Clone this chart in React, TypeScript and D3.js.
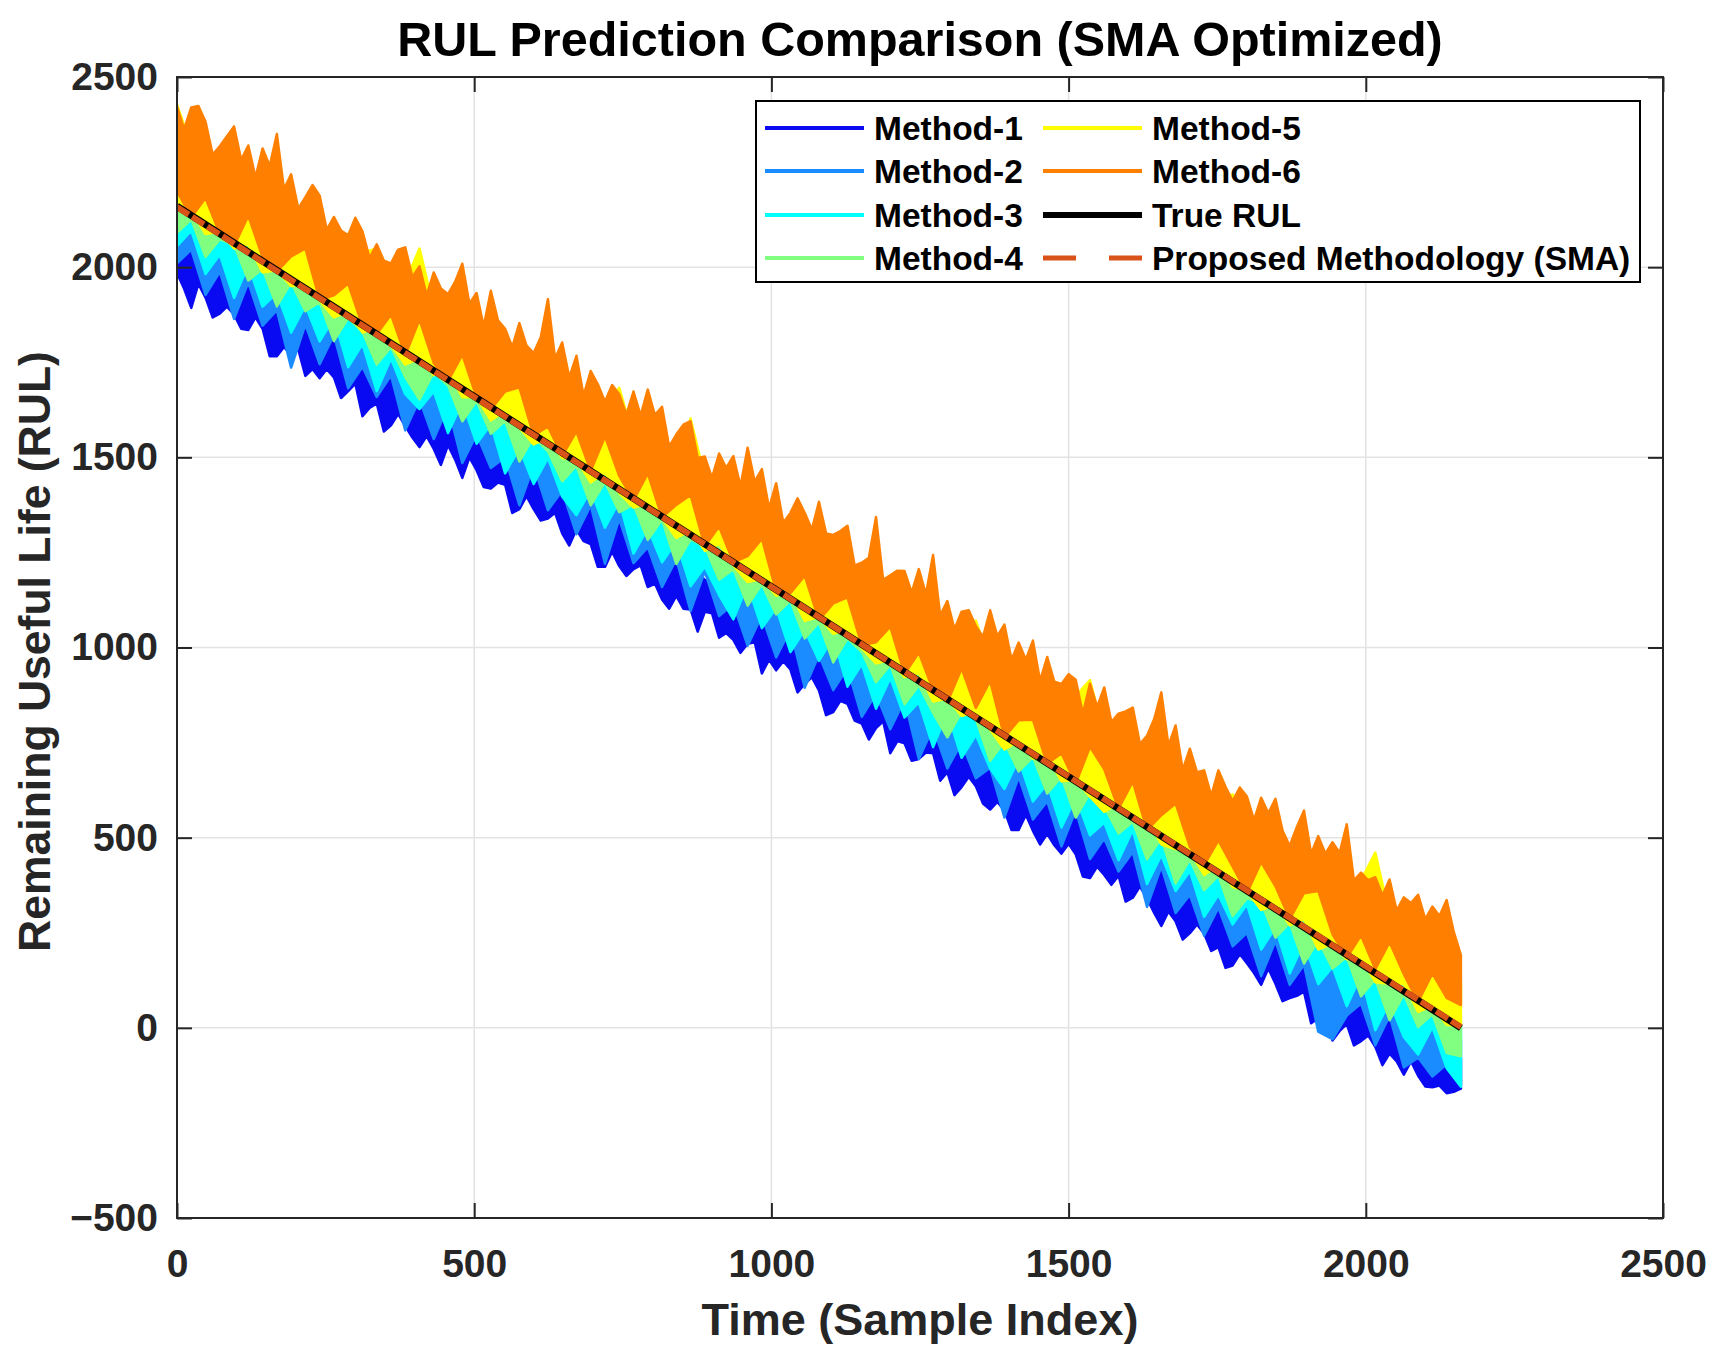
import { useEffect, useRef } from "react";
import * as d3 from "d3";

// Each method is drawn as the min/max envelope of its noisy trace, read off the
// figure per bin. Coarse envelopes use 24-sample bins, the outer silhouettes
// (top of Method-6, bottom of Method-1) use 12-sample bins.
const sampleIdx = d3.range(0, 2161, 24);
const sampleIdxFine = d3.range(0, 2161, 12);

const m1Hi = [
    2100, 2051, 2062, 2016, 1969, 1982, 1936, 1948, 1880, 1878,
    1868, 1798, 1802, 1802, 1742, 1738, 1686, 1698, 1652, 1662,
    1594, 1588, 1576, 1514, 1510, 1512, 1452, 1448, 1388, 1406,
    1362, 1366, 1300, 1298, 1300, 1240, 1234, 1176, 1194, 1150,
    1112, 1130, 1086, 1044, 1048, 982, 984, 982, 926, 920,
    868, 878, 836, 844, 778, 772, 762, 698, 698, 696,
    640, 634, 572, 592, 550, 510, 530, 486, 444, 452,
    402, 360, 372, 336, 340, 272, 272, 258, 206, 194,
    148, 158, 116, 120, 58, 54, -2, 16, -26, -38, -80,
];
const m1Lo = [
    1985, 1943, 1893, 1956, 1920, 1868, 1878, 1896, 1876, 1838,
    1835, 1868, 1838, 1766, 1766, 1790, 1768, 1784, 1714, 1732,
    1708, 1732, 1710, 1656, 1674, 1694, 1608, 1630, 1642, 1568,
    1584, 1614, 1582, 1552, 1527, 1556, 1522, 1480, 1532, 1494,
    1446, 1500, 1466, 1422, 1418, 1434, 1428, 1354, 1364, 1398,
    1364, 1334, 1339, 1354, 1300, 1268, 1310, 1280, 1272, 1212,
    1212, 1252, 1214, 1188, 1206, 1216, 1159, 1168, 1126, 1102,
    1136, 1102, 1100, 1042, 1094, 1090, 1026, 1038, 1020, 986,
    1010, 1014, 932, 968, 940, 964, 942, 882, 904, 922,
    887, 822, 830, 860, 852, 808, 800, 758, 788, 806,
    722, 754, 748, 702, 707, 724, 722, 650, 672, 612,
    633, 660, 635, 590, 574, 594, 572, 520, 520, 560,
    518, 482, 510, 480, 458, 484, 456, 398, 394, 424,
    402, 376, 400, 332, 342, 372, 340, 302, 268, 306,
    280, 232, 249, 272, 248, 202, 212, 158, 164, 194,
    170, 144, 113, 156, 116, 70, 78, 84, 95, 12,
    25, 48, -33, -8, 10, -46, -35, -20, -50, -98,
    -68, -88, -123, -88, -126, -154, -156, -152, -172, -168,
    -160,
];
const m2Hi = [
    2150, 2111, 2104, 2068, 2036, 2028, 1992, 1986, 1950, 1929,
    1891, 1885, 1855, 1822, 1815, 1779, 1762, 1722, 1712, 1697,
    1657, 1643, 1605, 1598, 1565, 1532, 1528, 1490, 1473, 1452,
    1415, 1398, 1386, 1347, 1315, 1307, 1279, 1248, 1239, 1204,
    1186, 1149, 1141, 1110, 1081, 1073, 1030, 1017, 996, 962,
    941, 928, 884, 872, 854, 816, 802, 772, 762, 717,
    703, 684, 649, 639, 605, 571, 563, 531, 513, 497,
    455, 438, 421, 386, 356, 350, 320, 288, 280, 244,
    226, 190, 180, 150, 121, 111, 69, 57, 27, 11, -30,
];
const m2Lo = [
    2010, 2046, 1927, 1988, 1864, 1960, 1846, 1887, 1736, 1849,
    1745, 1821, 1682, 1738, 1659, 1715, 1571, 1652, 1548, 1634,
    1485, 1561, 1472, 1500, 1374, 1478, 1361, 1412, 1298, 1374,
    1220, 1338, 1222, 1264, 1159, 1232, 1096, 1200, 1083, 1114,
    1005, 1084, 974, 1048, 894, 980, 888, 946, 818, 878,
    785, 862, 707, 790, 682, 750, 656, 684, 553, 660,
    548, 596, 477, 572, 444, 498, 411, 462, 318, 424,
    302, 350, 242, 316, 214, 250, 136, 228, 113, 166,
    -10, -30, 32, 64, -46, 32, -104, -78, -128, -96, -150,
];
const m3Hi = [
    2198, 2146, 2137, 2083, 2082, 2072, 2018, 2014, 1980, 1979,
    1918, 1916, 1880, 1876, 1838, 1796, 1806, 1758, 1752, 1720,
    1680, 1690, 1642, 1634, 1578, 1580, 1548, 1548, 1492, 1482,
    1468, 1414, 1414, 1382, 1376, 1326, 1312, 1298, 1244, 1244,
    1210, 1206, 1154, 1152, 1118, 1116, 1050, 1050, 1036, 992,
    982, 936, 944, 900, 890, 844, 834, 826, 766, 764,
    730, 724, 678, 672, 640, 596, 606, 564, 550, 506,
    514, 470, 458, 402, 402, 368, 366, 332, 288, 288,
    252, 248, 196, 190, 160, 148, 94, 92, 58, 50, 6,
];
const m3Lo = [
    2055, 2096, 1982, 2033, 1919, 2005, 1896, 1932, 1828, 1899,
    1805, 1866, 1737, 1798, 1674, 1760, 1666, 1627, 1673, 1564,
    1645, 1536, 1587, 1458, 1524, 1430, 1498, 1397, 1348, 1414,
    1315, 1384, 1247, 1313, 1224, 1278, 1161, 1212, 1138, 1074,
    1164, 1051, 1104, 988, 1046, 965, 1026, 897, 956, 839,
    920, 816, 856, 738, 830, 710, 770, 682, 628, 706,
    595, 642, 527, 606, 506, 540, 441, 520, 378, 454,
    360, 412, 292, 350, 272, 324, 206, 264, 143, 224,
    115, 160, 57, 138, -6, 68, -24, -70, 2, -106, -155,
];
const m4Hi = [
    2200, 2191, 2137, 2150, 2099, 2088, 2036, 2058, 1998, 1996,
    1958, 1918, 1930, 1892, 1852, 1864, 1812, 1802, 1752, 1764,
    1722, 1686, 1688, 1634, 1652, 1594, 1582, 1532, 1542, 1504,
    1468, 1478, 1430, 1392, 1394, 1364, 1326, 1338, 1270, 1280,
    1236, 1224, 1178, 1188, 1144, 1112, 1110, 1052, 1072, 1026,
    988, 994, 946, 934, 888, 902, 854, 844, 798, 788,
    786, 722, 722, 684, 646, 658, 618, 582, 582, 528,
    526, 520, 464, 448, 404, 416, 374, 340, 348, 308,
    274, 268, 218, 216, 206, 150, 136, 94, 104, 60, 20,
];
const m4Lo = [
    2090, 2126, 2027, 2073, 2059, 1965, 1996, 1897, 1960, 1884,
    1908, 1806, 1866, 1830, 1744, 1790, 1711, 1652, 1723, 1689,
    1595, 1648, 1562, 1596, 1489, 1554, 1516, 1437, 1478, 1374,
    1435, 1356, 1376, 1283, 1336, 1220, 1284, 1266, 1178, 1206,
    1110, 1166, 1087, 1123, 1024, 1066, 961, 1024, 988, 909,
    954, 851, 900, 828, 764, 830, 811, 702, 752, 674,
    712, 616, 660, 553, 618, 582, 511, 542, 443, 499,
    380, 442, 362, 400, 294, 340, 330, 237, 276, 169,
    230, 156, 187, 83, 128, 20, 88, 2, 36, -66, -75,
];
const m5Hi = [
    2428, 2316, 2262, 2293, 2234, 2180, 2236, 2152, 2163, 2079,
    2130, 2071, 2022, 2038, 2049, 1945, 1961, 2049, 1893, 1844,
    1880, 1886, 1787, 1788, 1794, 1710, 1731, 1682, 1628, 1669,
    1625, 1683, 1552, 1583, 1524, 1465, 1602, 1447, 1398, 1424,
    1365, 1396, 1337, 1268, 1299, 1250, 1286, 1187, 1188, 1189,
    1110, 1176, 1087, 1078, 1009, 1050, 1071, 957, 953, 884,
    920, 876, 822, 873, 914, 770, 771, 697, 743, 684,
    640, 661, 572, 598, 614, 525, 486, 522, 463, 409,
    440, 401, 352, 388, 461, 295, 246, 277, 228, 184, 120,
];
const m5Lo = [
    2150, 2148, 2087, 2093, 2049, 2060, 1986, 1992, 1950, 1959,
    1912, 1868, 1882, 1828, 1842, 1795, 1744, 1760, 1716, 1726,
    1658, 1658, 1597, 1622, 1578, 1534, 1552, 1498, 1494, 1434,
    1460, 1406, 1368, 1378, 1340, 1288, 1308, 1254, 1272, 1216,
    1172, 1180, 1136, 1146, 1070, 1080, 1036, 1046, 998, 958,
    968, 922, 934, 858, 866, 820, 832, 784, 732, 754,
    708, 716, 648, 652, 608, 568, 590, 546, 552, 482,
    470, 464, 402, 426, 370, 360, 310, 324, 270, 286,
    206, 222, 180, 184, 120, 116, 116, 42, 58, 8, 4,
];
const m6Hi = [
    2422, 2363, 2420, 2424, 2382, 2296, 2318, 2344, 2370, 2282,
    2320, 2236, 2312, 2266, 2350, 2205, 2244, 2154, 2184, 2216,
    2188, 2098, 2132, 2096, 2084, 2130, 2094, 2024, 2060, 2017,
    2010, 2046, 2052, 1974, 2002, 1926, 1986, 1944, 1929, 1962,
    2009, 1904, 1932, 1844, 1938, 1860, 1838, 1790, 1853, 1794,
    1774, 1816, 1916, 1760, 1802, 1710, 1767, 1662, 1727, 1692,
    1646, 1690, 1666, 1612, 1673, 1610, 1678, 1611, 1633, 1528,
    1560, 1586, 1595, 1498, 1502, 1446, 1510, 1472, 1503, 1424,
    1525, 1436, 1469, 1366, 1432, 1328, 1354, 1392, 1354, 1310,
    1383, 1300, 1296, 1306, 1320, 1216, 1223, 1236, 1343, 1178,
    1190, 1202, 1201, 1144, 1206, 1140, 1243, 1084, 1122, 1048,
    1094, 1098, 1056, 1028, 1098, 1030, 1060, 968, 1013, 968,
    1018, 912, 975, 910, 904, 930, 915, 826, 905, 844,
    895, 804, 826, 832, 842, 746, 768, 812, 882, 742,
    795, 678, 734, 672, 677, 610, 677, 634, 596, 632,
    608, 546, 605, 564, 602, 518, 478, 528, 571, 458,
    504, 458, 488, 460, 535, 388, 408, 388, 396, 348,
    390, 308, 343, 328, 350, 286, 319, 294, 336, 252,
    191,
];
const m6Lo = [
    2200, 2131, 2182, 2088, 2056, 2135, 2026, 1988, 2028, 2049,
    1914, 1926, 1957, 1846, 1824, 1875, 1768, 1862, 1748, 1700,
    1770, 1658, 1626, 1673, 1684, 1557, 1581, 1504, 1568, 1464,
    1555, 1451, 1387, 1458, 1342, 1375, 1401, 1266, 1318, 1224,
    1240, 1286, 1148, 1143, 1189, 1072, 1116, 1132, 1006, 1014,
    1055, 930, 987, 888, 856, 945, 841, 912, 764, 809,
    810, 694, 722, 642, 739, 680, 576, 647, 520, 559,
    590, 476, 428, 493, 424, 354, 436, 372, 286, 354,
    360, 246, 184, 243, 154, 225, 141, 68, 143, 79, 60,
];

// True RUL and the SMA-optimised prediction (straight lines in the figure)
const trueSamples = [0, 2160];
const trueRul = [2160, 0];
const proposedRul = [2158, 2];

const methodNames = ["Method-1", "Method-2", "Method-3", "Method-4", "Method-5", "Method-6"];
const methodColors = ["#0A0AF2", "#1A8CFF", "#00FFFF", "#80FF80", "#FFFF00", "#FF8000"];
const methodHi = [m1Hi, m2Hi, m3Hi, m4Hi, m5Hi, m6Hi];
const methodLo = [m1Lo, m2Lo, m3Lo, m4Lo, m5Lo, m6Lo];

const xTicks = [0, 500, 1000, 1500, 2000, 2500];
const yTicks = [-500, 0, 500, 1000, 1500, 2000, 2500];

const width = 1717;
const height = 1361;
const margin = { top: 77, right: 54, bottom: 143, left: 177 };
const font = "'Liberation Sans', Arial, Helvetica, sans-serif";
const axisColor = "#262626";

const App = () => {
    const svgRef = useRef<SVGSVGElement | null>(null);

    useEffect(() => {
        if (!svgRef.current) return;
        const svg = d3.select(svgRef.current);
        svg.selectAll("*").remove();

        const plotWidth = width - margin.left - margin.right;
        const plotHeight = height - margin.top - margin.bottom;

        const xScale = d3.scaleLinear().domain([0, 2500]).range([0, plotWidth]);
        const yScale = d3.scaleLinear().domain([-500, 2500]).range([plotHeight, 0]);

        svg.append("rect").attr("width", width).attr("height", height).attr("fill", "white");

        svg.append("defs")
            .append("clipPath")
            .attr("id", "plot-clip")
            .append("rect")
            .attr("width", plotWidth)
            .attr("height", plotHeight);

        const chart = svg
            .append("g")
            .attr("transform", `translate(${margin.left},${margin.top})`);

        // Grid
        const grid = chart.append("g").attr("stroke", "#E3E3E3").attr("stroke-width", 1.5);
        grid.selectAll("line.gx")
            .data(xTicks)
            .join("line")
            .attr("class", "gx")
            .attr("x1", (d) => xScale(d))
            .attr("x2", (d) => xScale(d))
            .attr("y1", 0)
            .attr("y2", plotHeight);
        grid.selectAll("line.gy")
            .data(yTicks)
            .join("line")
            .attr("class", "gy")
            .attr("y1", (d) => yScale(d))
            .attr("y2", (d) => yScale(d))
            .attr("x1", 0)
            .attr("x2", plotWidth);

        // Series: polygon = upper envelope forward, lower envelope backward
        const plot = chart.append("g").attr("clip-path", "url(#plot-clip)");
        const edge = d3
            .line<[number, number]>()
            .x((d) => xScale(d[0]))
            .y((d) => yScale(d[1]));
        const binsFor = (arr: number[]) => (arr.length === sampleIdxFine.length ? sampleIdxFine : sampleIdx);

        methodNames.forEach((name, k) => {
            const hi = methodHi[k];
            const lo = methodLo[k];
            const top = binsFor(hi).map((s, i) => [s, hi[i]] as [number, number]);
            const bottom = binsFor(lo).map((s, i) => [s, lo[i]] as [number, number]).reverse();
            plot.append("path")
                .attr("d", edge([...top, ...bottom]) + "Z")
                .attr("fill", methodColors[k])
                .attr("stroke", methodColors[k])
                .attr("stroke-width", 2.5)
                .attr("stroke-linejoin", "round");
        });

        const line = d3
            .line<number>()
            .x((_, i) => xScale(trueSamples[i]))
            .y((d) => yScale(d));

        plot.append("path")
            .attr("d", line(trueRul))
            .attr("fill", "none")
            .attr("stroke", "black")
            .attr("stroke-width", 7);

        plot.append("path")
            .attr("d", line(proposedRul))
            .attr("fill", "none")
            .attr("stroke", "#D95319")
            .attr("stroke-width", 6)
            .attr("stroke-dasharray", "14 4");

        // Axes (ticks point inward, box on)
        const styleAxis = (g: d3.Selection<SVGGElement, unknown, null, undefined>) => {
            g.select(".domain").remove();
            g.attr("font-family", font)
                .attr("font-size", 39)
                .attr("font-weight", "bold")
                .attr("color", axisColor);
            g.selectAll(".tick line").attr("stroke-width", 2);
        };

        chart.append("g")
            .attr("transform", `translate(0,${plotHeight})`)
            .call(d3.axisBottom(xScale).tickValues(xTicks).tickSize(-15).tickPadding(31).tickFormat(d3.format("d")))
            .call(styleAxis);

        chart.append("g")
            .call(d3.axisLeft(yScale).tickValues(yTicks).tickSize(-15).tickPadding(19).tickFormat(d3.format("d")))
            .call(styleAxis);

        chart.append("g")
            .call(d3.axisTop(xScale).tickValues(xTicks).tickSize(-15).tickFormat(() => ""))
            .call(styleAxis);

        chart.append("g")
            .attr("transform", `translate(${plotWidth},0)`)
            .call(d3.axisRight(yScale).tickValues(yTicks).tickSize(-15).tickFormat(() => ""))
            .call(styleAxis);

        chart.append("rect")
            .attr("width", plotWidth)
            .attr("height", plotHeight)
            .attr("fill", "none")
            .attr("stroke", axisColor)
            .attr("stroke-width", 2);

        // Title and labels
        svg.append("text")
            .attr("x", margin.left + plotWidth / 2)
            .attr("y", 56)
            .attr("text-anchor", "middle")
            .attr("font-family", font)
            .attr("font-size", 48.5)
            .attr("font-weight", "bold")
            .attr("fill", "black")
            .text("RUL Prediction Comparison (SMA Optimized)");

        svg.append("text")
            .attr("x", margin.left + plotWidth / 2)
            .attr("y", 1335)
            .attr("text-anchor", "middle")
            .attr("font-family", font)
            .attr("font-size", 45)
            .attr("font-weight", "bold")
            .attr("fill", axisColor)
            .text("Time (Sample Index)");

        svg.append("text")
            .attr("transform", `translate(50,${margin.top + plotHeight / 2 + 4}) rotate(-90)`)
            .attr("text-anchor", "middle")
            .attr("font-family", font)
            .attr("font-size", 44.5)
            .attr("font-weight", "bold")
            .attr("fill", axisColor)
            .text("Remaining Useful Life (RUL)");

        // Legend
        const legend = svg.append("g").attr("transform", "translate(756,101)");
        legend.append("rect")
            .attr("width", 884)
            .attr("height", 181)
            .attr("fill", "white")
            .attr("stroke", "black")
            .attr("stroke-width", 2);

        const rowY = [27, 70, 114, 157];
        const entries = [
            ...methodNames.map((name, k) => ({ name, color: methodColors[k], w: 4, dash: "" })),
            { name: "True RUL", color: "black", w: 6, dash: "" },
            { name: "Proposed Methodology (SMA)", color: "#D95319", w: 5, dash: "33 33" },
        ];
        entries.forEach((e, i) => {
            const col = Math.floor(i / 4);
            const x0 = col === 0 ? 9 : 287;
            const yy = rowY[i % 4];
            legend.append("line")
                .attr("x1", x0)
                .attr("x2", x0 + 99)
                .attr("y1", yy)
                .attr("y2", yy)
                .attr("stroke", e.color)
                .attr("stroke-width", e.w)
                .attr("stroke-dasharray", e.dash || null);
            legend.append("text")
                .attr("x", x0 + 109)
                .attr("y", yy + 12)
                .attr("font-family", font)
                .attr("font-size", 33.5)
                .attr("font-weight", "bold")
                .attr("fill", "black")
                .text(e.name);
        });
    }, []);

    return (
        <svg
            ref={svgRef}
            width={width}
            height={height}
            style={{ position: "absolute", left: 0, top: 0, display: "block" }}
        />
    );
};

export default App;
